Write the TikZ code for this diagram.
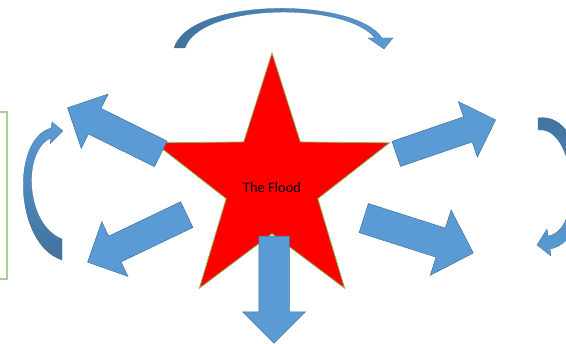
\documentclass[tikz,border=0pt]{standalone}
\usepackage{fontspec}
\setmainfont{Carlito}
\usepackage{xcolor}
\definecolor{floodRed}{HTML}{FF0000}
\definecolor{floodEdge}{HTML}{8DB356}
\definecolor{burstBlue}{HTML}{5B9BD5}
\definecolor{burstDark}{HTML}{41719C}
\definecolor{frameGreen}{HTML}{A9D18E}
\usetikzlibrary{shapes.arrows}

\begin{document}
\begin{tikzpicture}[
		x=1pt, y=1pt,
		burst/.style={
			single arrow,
			draw=burstDark,
			fill=burstBlue,
			line width=0.5pt,
			anchor=tail,
			inner xsep=0pt,
			inner ysep=14pt,
			single arrow head extend=16pt,
			minimum height=#1
		},
		swirl/.style={draw=burstDark, line width=0.3pt},
		label/.style={font=\fontsize{14.5}{17}\selectfont, inner sep=0pt}
		]
		\useasboundingbox (0,0) rectangle (566,344);
		
		% the star in the middle
		\begin{scope}[shift={(272,161)}, xscale=0.95]
			\draw[fill=floodRed, draw=floodEdge, line width=0.8pt]
				(90:130) \foreach \k in {1,...,9}{ -- ({90+36*\k}:{ifthenelse(isodd(\k),50.7,130)}) } -- cycle;
		\end{scope}
		\node[label] (flood) at (272,156) {The Flood};
		
		% straight arrows round the star
		\node[burst=104, rotate=153.7] (upleft) at (161,190) {};
		\node[burst=105, rotate=18.9, inner ysep=13pt] (upright) at (396,190) {};
		\node[burst=110, rotate=205.6] (downleft) at (187,129.5) {};
		\node[burst=115, rotate=-17.7, inner ysep=15pt, single arrow head extend=19pt] (downright) at (363.5,126) {};
		\node[burst=107, rotate=-90, inner ysep=15pt] (down) at (274,108) {};
		
		% curved arrows
		\shadedraw[swirl, left color=burstDark, right color=burstBlue]
			(174,296) .. controls (190,347) and (355,347) .. (382,306)
			-- (393,306) -- (384,295) -- (368,306) -- (375,306)
			.. controls (345,343) and (200,341) .. (185,296) -- cycle;
		\shadedraw[swirl, top color=burstBlue, bottom color=burstDark]
			(62,84) .. controls (15,99) and (10,204) .. (51,216)
			-- (52,222) -- (63,213) -- (50,200) -- (51,206)
			.. controls (22,194) and (25,119) .. (62,105) -- cycle;
		\shadedraw[swirl, top color=burstDark, bottom color=burstBlue]
			(538,226) .. controls (590,234) and (600,104) .. (550,95)
			-- (551,88) -- (537,99) -- (547,115) -- (548,108)
			.. controls (585,114) and (575,219) .. (538,214) -- cycle;
		
		% box at the left edge
		\draw[frameGreen, line width=1.2pt] (-20,232) rectangle (7,65);
		
	\end{tikzpicture}
\end{document}
